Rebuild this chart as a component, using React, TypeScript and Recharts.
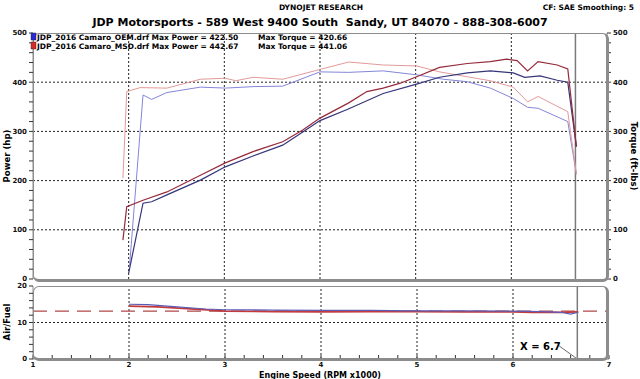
import { LineChart, Line, XAxis, YAxis, ReferenceLine } from "recharts";

// [rpm x1000, value]
const OEM_POWER = [
  [2.0, 12], [2.15, 154], [2.24, 157], [2.4, 171], [2.75, 201], [3.01, 228], [3.3, 250],
  [3.61, 272], [3.82, 299], [4.0, 322], [4.29, 345], [4.66, 377], [5.01, 396], [5.25, 410],
  [5.54, 419], [5.78, 423], [6.02, 419], [6.14, 410], [6.3, 413], [6.48, 404], [6.59, 400],
  [6.68, 269],
];
const MSD_POWER = [
  [1.94, 79], [1.98, 147], [2.15, 160], [2.4, 177], [2.75, 211], [3.01, 236], [3.3, 259],
  [3.61, 279], [3.82, 303], [4.0, 327], [4.3, 358], [4.49, 381], [4.66, 388], [4.84, 398],
  [5.01, 411], [5.25, 430], [5.54, 438], [5.78, 442], [5.95, 447], [6.06, 444], [6.17, 423],
  [6.28, 442], [6.48, 435], [6.59, 427], [6.68, 269],
];
const OEM_TORQUE = [
  [2.01, 28], [2.15, 374], [2.24, 365], [2.4, 379], [2.75, 390], [3.01, 388], [3.3, 391],
  [3.61, 392], [4.0, 421], [4.3, 420], [4.66, 423], [5.01, 415], [5.29, 406], [5.54, 401],
  [5.78, 388], [6.02, 367], [6.17, 349], [6.28, 347], [6.59, 320], [6.68, 213],
];
const MSD_TORQUE = [
  [1.94, 205], [1.98, 381], [2.12, 389], [2.4, 388], [2.75, 406], [3.01, 408], [3.12, 403],
  [3.3, 410], [3.61, 406], [4.0, 426], [4.3, 441], [4.66, 435], [5.01, 433], [5.25, 421],
  [5.54, 411], [5.78, 403], [6.02, 390], [6.17, 360], [6.28, 371], [6.59, 340], [6.68, 213],
];
const OEM_AFR = [
  [2.0, 15.0], [2.2, 14.9], [2.5, 14.3], [2.8, 13.7], [3.0, 13.5], [3.5, 13.4], [4.0, 13.3],
  [4.5, 13.3], [5.0, 13.2], [5.5, 13.2], [6.0, 13.1], [6.3, 13.0], [6.5, 12.8], [6.6, 12.3],
  [6.68, 12.8],
];
const MSD_AFR = [
  [2.0, 14.5], [2.3, 14.3], [2.6, 13.8], [2.9, 13.3], [3.0, 13.1], [3.5, 13.0], [4.0, 12.9],
  [4.5, 13.0], [5.0, 13.0], [5.5, 12.9], [6.0, 12.9], [6.2, 12.8], [6.5, 12.8], [6.68, 12.9],
];
const AFR_TARGET = 13.1;
const CURSOR_X = 6.67;

const RPM_GRID = [2, 3, 4, 5, 6];
const HP_GRID = [100, 200, 300, 400];
const HP_TICKS = Array.from({ length: 26 }, (_, i) => i * 20);
const AFR_TICKS = Array.from({ length: 11 }, (_, i) => i * 2);
const RPM_TICKS = Array.from({ length: 31 }, (_, i) => Math.round((1 + i * 0.2) * 10) / 10);

const toPts = (a: number[][]) => a.map(([rpm, v]) => ({ rpm, v }));

const FONT = "DejaVu Sans, Verdana, sans-serif";
const tickStyle = { fontSize: 7, fontWeight: 700, fill: "#111", fontFamily: FONT };
const FRAME = "#8c8c8c";

const DARK_BLUE = "#35357a";
const DARK_RED = "#962a3a";
const LIGHT_BLUE = "#8585da";
const LIGHT_RED = "#e39a9a";

export default function App() {
  const frame = (top: number, height: number) => ({
    position: "absolute" as const,
    left: 33,
    top,
    width: 576,
    height,
    boxSizing: "border-box" as const,
    borderTop: `1.5px solid ${FRAME}`,
    borderLeft: `1.5px solid ${FRAME}`,
    borderRight: `3px solid ${FRAME}`,
    borderBottom: `3px solid ${FRAME}`,
    borderRadius: 6,
    pointerEvents: "none" as const,
  });

  return (
    <div style={{ position: "absolute", left: 0, top: 0, width: 640, height: 379, background: "#fff", fontFamily: FONT }}>
      <div style={{ position: "absolute", left: 0, top: 0 }}>
        <LineChart width={640} height={290} margin={{ top: 33, right: 0, left: 0, bottom: 11 }}>
          <XAxis type="number" dataKey="rpm" domain={[1, 7]} hide allowDataOverflow />
          <YAxis
            yAxisId="hp"
            width={33}
            domain={[0, 500]}
            ticks={HP_TICKS}
            tickFormatter={(v: number) => (v % 100 === 0 ? String(v) : "")}
            tick={tickStyle}
            tickSize={4}
            tickMargin={2}
            axisLine={{ stroke: FRAME }}
            tickLine={{ stroke: "#333" }}
            interval={0}
          />
          <YAxis
            yAxisId="tq"
            orientation="right"
            width={33}
            domain={[0, 500]}
            ticks={HP_TICKS}
            tickFormatter={(v: number) => (v % 100 === 0 ? String(v) : "")}
            tick={tickStyle}
            tickSize={4}
            tickMargin={2}
            axisLine={{ stroke: FRAME }}
            tickLine={{ stroke: "#333" }}
            interval={0}
          />
          {HP_GRID.map((y) => (
            <ReferenceLine key={`h${y}`} yAxisId="hp" y={y} stroke="#222" strokeDasharray="2 2" />
          ))}
          {RPM_GRID.map((x) => (
            <ReferenceLine key={`v${x}`} yAxisId="hp" x={x} stroke="#222" strokeDasharray="2 2" />
          ))}
          <ReferenceLine yAxisId="hp" x={CURSOR_X} stroke="#7a7a7a" strokeWidth={1.5} />
          <Line yAxisId="tq" data={toPts(OEM_TORQUE)} dataKey="v" stroke={LIGHT_BLUE} strokeWidth={1} dot={false} isAnimationActive={false} />
          <Line yAxisId="tq" data={toPts(MSD_TORQUE)} dataKey="v" stroke={LIGHT_RED} strokeWidth={1} dot={false} isAnimationActive={false} />
          <Line yAxisId="hp" data={toPts(OEM_POWER)} dataKey="v" stroke={DARK_BLUE} strokeWidth={1.2} dot={false} isAnimationActive={false} />
          <Line yAxisId="hp" data={toPts(MSD_POWER)} dataKey="v" stroke={DARK_RED} strokeWidth={1.2} dot={false} isAnimationActive={false} />
        </LineChart>
      </div>

      <div style={{ position: "absolute", left: 0, top: 280 }}>
        <LineChart width={640} height={99} margin={{ top: 6, right: 31, left: 0, bottom: 0 }}>
          <XAxis
            type="number"
            dataKey="rpm"
            domain={[1, 7]}
            ticks={RPM_TICKS}
            interval={0}
            tickFormatter={(v: number) => (Number.isInteger(v) ? String(v) : "")}
            tick={tickStyle}
            tickSize={-4}
            tickMargin={7}
            height={20}
            axisLine={{ stroke: FRAME }}
            tickLine={{ stroke: "#333" }}
            allowDataOverflow
          />
          <YAxis
            width={33}
            domain={[0, 20]}
            ticks={AFR_TICKS}
            interval={0}
            tickFormatter={(v: number) => (v % 10 === 0 ? String(v) : "")}
            tick={tickStyle}
            tickSize={4}
            tickMargin={2}
            axisLine={{ stroke: FRAME }}
            tickLine={{ stroke: "#333" }}
          />
          <ReferenceLine y={10} stroke="#222" strokeDasharray="2 2" />
          {RPM_GRID.map((x) => (
            <ReferenceLine key={`a${x}`} x={x} stroke="#222" strokeDasharray="2 2" />
          ))}
          <ReferenceLine y={AFR_TARGET} stroke="#b04848" strokeWidth={1.2} strokeDasharray="14 8" />
          <ReferenceLine x={CURSOR_X} stroke="#7a7a7a" strokeWidth={1.5} />
          <ReferenceLine
            segment={[{ x: 6.48, y: 3.6 }, { x: CURSOR_X, y: 0 }]}
            stroke="#444"
            strokeWidth={0.8}
          />
          <Line data={toPts(MSD_AFR)} dataKey="v" stroke="#c23a3a" strokeWidth={1.8} dot={false} isAnimationActive={false} />
          <Line data={toPts(OEM_AFR)} dataKey="v" stroke="#5d5db8" strokeWidth={1.2} dot={false} isAnimationActive={false} />
        </LineChart>
      </div>

      <div style={frame(33, 249)} />
      <div style={frame(286, 75)} />

      <svg width={640} height={379} style={{ position: "absolute", left: 0, top: 0, pointerEvents: "none" }} fontFamily={FONT}>
        <text x={321} y={10} textAnchor="middle" fontSize={7.5} fontWeight={700}>DYNOJET RESEARCH</text>
        <text x={634} y={10} textAnchor="end" fontSize={7.5} fontWeight={700}>CF: SAE  Smoothing: 5</text>
        <text x={320} y={26} textAnchor="middle" fontSize={11} fontWeight={700} style={{ whiteSpace: "pre" }}>
          JDP Motorsports - 589 West 9400 South  Sandy, UT 84070 - 888-308-6007
        </text>

        <rect x={31} y={33} width={5} height={7} fill="#2b2bd6" stroke="#223" strokeWidth={0.4} />
        <rect x={31} y={42} width={5} height={7} fill="#d62b2b" stroke="#322" strokeWidth={0.4} />
        <text x={37} y={39.5} fontSize={7.5} fontWeight={700}>JDP_2016 Camaro_OEM.drf Max Power = 422.50</text>
        <text x={258} y={39.5} fontSize={7.5} fontWeight={700}>Max Torque = 420.66</text>
        <text x={37} y={48.5} fontSize={7.5} fontWeight={700}>JDP_2016 Camaro_MSD.drf Max Power = 442.67</text>
        <text x={258} y={48.5} fontSize={7.5} fontWeight={700}>Max Torque = 441.06</text>

        <text transform="translate(10,156) rotate(-90)" textAnchor="middle" fontSize={8.5} fontWeight={700}>Power (hp)</text>
        <text transform="translate(631,156) rotate(90)" textAnchor="middle" fontSize={8.5} fontWeight={700}>Torque (ft-lbs)</text>
        <text transform="translate(10,322) rotate(-90)" textAnchor="middle" fontSize={8.5} fontWeight={700}>Air/Fuel</text>
        <text x={320} y={378} textAnchor="middle" fontSize={8} fontWeight={700}>Engine Speed (RPM x1000)</text>
        <text x={520} y={350} fontSize={10} fontWeight={700}>X = 6.7</text>
      </svg>
    </div>
  );
}
